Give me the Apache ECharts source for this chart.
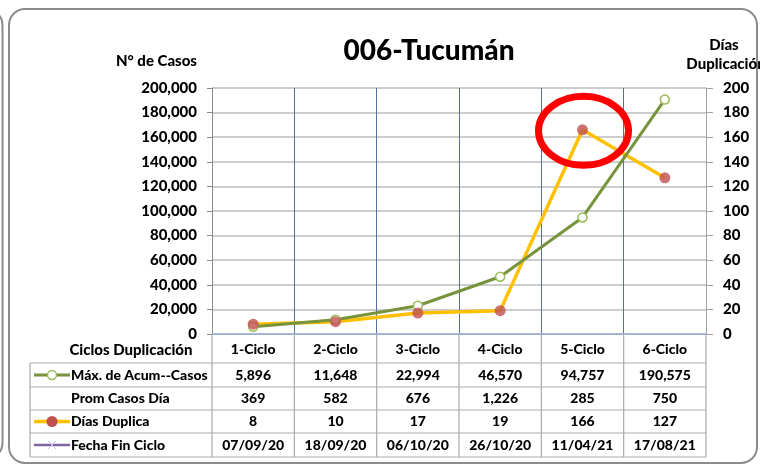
<!DOCTYPE html>
<html>
<head>
<meta charset="utf-8">
<title>006-Tucumán</title>
<script src="https://cdn.jsdelivr.net/npm/echarts@6/dist/echarts.min.js"></script>
<style>
  html, body { margin: 0; padding: 0; background: #fff; }
  #chart { width: 760px; height: 465px; }
</style>
</head>
<body>
<div id="chart"></div>
<script>
// datos del grafico
var categories = ['1-Ciclo', '2-Ciclo', '3-Ciclo', '4-Ciclo', '5-Ciclo', '6-Ciclo'];
var maxCasos = [5896, 11648, 22994, 46570, 94757, 190575];
var promCasosDia = [369, 582, 676, 1226, 285, 750];
var diasDuplica = [8, 10, 17, 19, 166, 127];
var fechaFinCiclo = ['07/09/20', '18/09/20', '06/10/20', '26/10/20', '11/04/21', '17/08/21'];
var rowLabels = ['Máx. de Acum--Casos', 'Prom Casos Día', 'Días Duplica', 'Fecha Fin Ciclo'];

var FONT = 'Lato';
var W = 900;
var GRID_COLOR = '#BDBDBD';
var TABLE_COLOR = '#ABABAB';

function fmt(n) {
    return typeof n === 'number' ? n.toLocaleString('en-US') : n;
}

var chart = echarts.init(document.getElementById('chart'));

var option = {
    backgroundColor: '#fff',
    animation: false,
    textStyle: { fontFamily: FONT },
    grid: { left: 212, right: 54, top: 88, bottom: 131 },
    xAxis: [{
        type: 'category',
        data: categories,
        boundaryGap: true,
        axisLine: { show: true, lineStyle: { color: '#9A9A9A', width: 1 } },
        axisTick: { show: false },
        axisLabel: { margin: 8, fontSize: 14, fontWeight: W, color: '#000', fontFamily: FONT },
        splitLine: { show: true, lineStyle: { color: '#52719E', width: 1 } }
    }, {
        type: 'category',
        data: categories,
        position: 'top',
        axisLine: { show: true, lineStyle: { color: '#9DB8DA', width: 1.5 } },
        axisTick: { show: false },
        axisLabel: { show: false },
        splitLine: { show: false }
    }],
    yAxis: [{
        type: 'value',
        min: 0,
        max: 200000,
        interval: 20000,
        position: 'left',
        axisLine: { show: true, lineStyle: { color: '#8A8A8A' } },
        axisTick: { show: true, length: 5, lineStyle: { color: '#8A8A8A' } },
        axisLabel: {
            margin: 15, fontSize: 15, fontWeight: W, color: '#000', fontFamily: FONT,
            formatter: function (v) { return fmt(v); }
        },
        splitLine: { show: true, lineStyle: { color: GRID_COLOR, width: 1.5 } }
    }, {
        type: 'value',
        min: 0,
        max: 200,
        interval: 20,
        position: 'right',
        axisLine: { show: true, lineStyle: { color: '#A0A0A0' } },
        axisTick: { show: true, length: 7, lineStyle: { color: '#A0A0A0' } },
        axisLabel: { margin: 17, fontSize: 15, fontWeight: W, color: '#000', fontFamily: FONT },
        splitLine: { show: false }
    }],
    series: [{
        name: 'Días Duplica',
        type: 'line',
        yAxisIndex: 1,
        data: diasDuplica,
        symbol: 'none',
        lineStyle: { color: '#FFC000', width: 3.5 },
        z: 2
    }, {
        name: 'Máx. de Acum--Casos',
        type: 'line',
        yAxisIndex: 0,
        data: maxCasos,
        symbol: 'circle',
        symbolSize: 9,
        lineStyle: { color: '#77933C', width: 3 },
        itemStyle: { color: '#fff', borderColor: '#9BBB59', borderWidth: 1.5 },
        z: 3
    }, {
        name: 'Días Duplica puntos',
        type: 'scatter',
        yAxisIndex: 1,
        data: diasDuplica,
        symbol: 'circle',
        symbolSize: 11,
        itemStyle: { color: '#C0504D' },
        z: 4
    }]
};

chart.setOption(option);

// tabla de datos y decoraciones
function buildGraphic() {
    var g = [];
    var cx = categories.map(function (c, i) { return chart.convertToPixel({ xAxisIndex: 0 }, i); });
    var cw = cx[1] - cx[0];
    var left = cx[0] - cw / 2;
    var right = cx[cx.length - 1] + cw / 2;
    var y0 = chart.convertToPixel({ yAxisIndex: 0 }, 0);
    var tableLeft = 30;
    var rows = [y0 + 29, y0 + 53, y0 + 76, y0 + 99, y0 + 123];
    var tfont = W + ' 14px ' + FONT;

    // marcos
    g.push({ type: 'rect', z: 0, shape: { x: 9, y: 9, width: 748, height: 454, r: 16 },
        style: { fill: 'none', stroke: '#8C8C8C', lineWidth: 2 } });
    g.push({ type: 'rect', z: 0, shape: { x: -100, y: 9, width: 102.5, height: 450, r: 16 },
        style: { fill: 'none', stroke: '#8C8C8C', lineWidth: 2 } });

    // lineas de la tabla
    rows.forEach(function (y) {
        g.push({ type: 'line', shape: { x1: tableLeft, y1: y, x2: right, y2: y },
            style: { stroke: TABLE_COLOR, lineWidth: 1.2 } });
    });
    g.push({ type: 'line', shape: { x1: tableLeft, y1: rows[0], x2: tableLeft, y2: rows[4] },
        style: { stroke: TABLE_COLOR, lineWidth: 1.2 } });
    for (var k = 0; k <= categories.length; k++) {
        var x = left + k * cw;
        g.push({ type: 'line', shape: { x1: x, y1: y0, x2: x, y2: rows[4] },
            style: { stroke: TABLE_COLOR, lineWidth: 1.2 } });
    }

    // encabezado
    g.push({ type: 'text', x: 131, y: (y0 + rows[0]) / 2 + 2,
        style: { text: 'Ciclos Duplicación', font: W + ' 15px ' + FONT, fill: '#000', align: 'center', verticalAlign: 'middle' } });

    var tableRows = [maxCasos, promCasosDia, diasDuplica, fechaFinCiclo];
    tableRows.forEach(function (vals, r) {
        var yc = (rows[r] + rows[r + 1]) / 2;
        g.push({ type: 'text', x: 71, y: yc,
            style: { text: rowLabels[r], font: tfont, fill: '#000', align: 'left', verticalAlign: 'middle' } });
        vals.forEach(function (v, i) {
            g.push({ type: 'text', x: cx[i], y: yc,
                style: { text: fmt(v), font: tfont, fill: '#000', align: 'center', verticalAlign: 'middle' } });
        });
    });

    // claves de leyenda
    var yk = (rows[0] + rows[1]) / 2;
    g.push({ type: 'line', shape: { x1: 34, y1: yk, x2: 70, y2: yk }, style: { stroke: '#77933C', lineWidth: 3 } });
    g.push({ type: 'circle', shape: { cx: 52, cy: yk, r: 4.5 }, style: { fill: '#fff', stroke: '#9BBB59', lineWidth: 1.5 } });
    yk = (rows[2] + rows[3]) / 2;
    g.push({ type: 'line', shape: { x1: 34, y1: yk, x2: 70, y2: yk }, style: { stroke: '#FFC000', lineWidth: 3.5 } });
    g.push({ type: 'circle', shape: { cx: 52, cy: yk, r: 5.5 }, style: { fill: '#C0504D' } });
    yk = (rows[3] + rows[4]) / 2;
    g.push({ type: 'line', shape: { x1: 34, y1: yk, x2: 70, y2: yk }, style: { stroke: '#8064A2', lineWidth: 2.5 } });
    g.push({ type: 'line', shape: { x1: 48, y1: yk - 4, x2: 56, y2: yk + 4 }, style: { stroke: '#CFC4E0', lineWidth: 1 } });
    g.push({ type: 'line', shape: { x1: 48, y1: yk + 4, x2: 56, y2: yk - 4 }, style: { stroke: '#CFC4E0', lineWidth: 1 } });

    // titulos
    g.push({ type: 'text', x: 429, y: 51,
        style: { text: '006-Tucumán', font: W + ' 28px ' + FONT, fill: '#000', align: 'center', verticalAlign: 'middle' } });
    g.push({ type: 'text', x: 197, y: 61,
        style: { text: 'N° de Casos', font: W + ' 15px ' + FONT, fill: '#000', align: 'right', verticalAlign: 'middle' } });
    g.push({ type: 'text', x: 724, y: 45,
        style: { text: 'Días', font: W + ' 15px ' + FONT, fill: '#000', align: 'center', verticalAlign: 'middle' } });
    g.push({ type: 'text', x: 726, y: 64,
        style: { text: 'Duplicación', font: W + ' 15px ' + FONT, fill: '#000', align: 'center', verticalAlign: 'middle' } });

    // elipse roja sobre el ciclo 5
    var p = chart.convertToPixel({ xAxisIndex: 0, yAxisIndex: 1 }, [4, diasDuplica[4]]);
    g.push({ type: 'ellipse', z: 10, shape: { cx: p[0] + 1, cy: p[1] + 1, rx: 45, ry: 34.5 },
        style: { fill: 'none', stroke: '#FF0000', lineWidth: 7 } });

    chart.setOption({ graphic: g });
}

buildGraphic();
</script>
</body>
</html>
